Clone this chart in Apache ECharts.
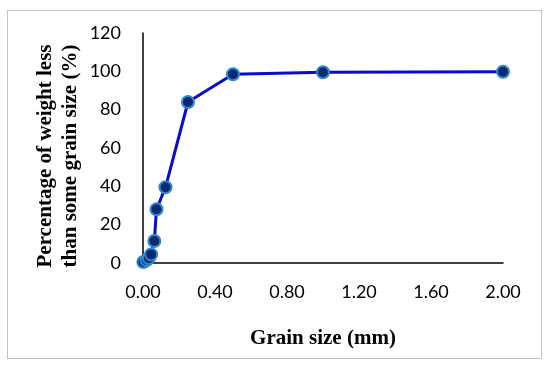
<!DOCTYPE html>
<html><head><meta charset="utf-8">
<script src="https://cdn.jsdelivr.net/npm/echarts@6/dist/echarts.min.js"></script>
<style>html,body{margin:0;padding:0;background:#fff}#c{width:550px;height:367px}
#frame{position:absolute;left:7px;top:10px;width:535px;height:349px;border:1.5px solid #c4c4c4;box-sizing:border-box;pointer-events:none}</style>
</head><body><div id="c"></div><div id="frame"></div>
<script>
const grainSize = [0.002, 0.02, 0.032, 0.045, 0.063, 0.075, 0.125, 0.25, 0.5, 1.0, 2.0];
const percentPassing = [0.5, 1.5, 2.5, 4.5, 11.5, 28, 39.5, 84, 98.5, 99.5, 99.8];
const xTicks = [0, 0.4, 0.8, 1.2, 1.6, 2.0];
const yTicks = [0, 20, 40, 60, 80, 100, 120];
const yTitle = 'Percentage of weight less\nthan some grain size (%)';

const chart = echarts.init(document.getElementById('c'));
chart.setOption({
  animation: false,
  grid: {left: 143, right: 47, top: 33, bottom: 104},
  graphic: [{
    type: 'text', x: 58, y: 156, rotation: Math.PI / 2,
    style: {text: yTitle, fontFamily: 'Liberation Serif', fontWeight: 'bold', fontSize: 21, lineHeight: 25,
            fill: '#000', align: 'center', verticalAlign: 'middle'}
  }],
  xAxis: {
    type: 'value', min: 0, max: 2.0, interval: 0.4,
    name: 'Grain size (mm)', nameLocation: 'middle', nameGap: 65,
    nameTextStyle: {fontFamily: 'Liberation Serif', fontWeight: 'bold', fontSize: 21, color: '#000'},
    axisLine: {lineStyle: {color: '#000', width: 1.5}},
    axisTick: {show: false},
    splitLine: {show: false},
    axisLabel: {color: '#000', fontSize: 18, fontFamily: 'Lato', margin: 20, formatter: v => v.toFixed(2)}
  },
  yAxis: {
    type: 'value', min: 0, max: 120, interval: 20,
    axisLine: {show: true, lineStyle: {color: '#000', width: 1.5}},
    axisTick: {show: false},
    splitLine: {show: false},
    axisLabel: {color: '#000', fontSize: 18, fontFamily: 'Lato', margin: 22}
  },
  series: [{
    type: 'line',
    data: grainSize.map((g, i) => [g, percentPassing[i]]),
    lineStyle: {color: '#0a0ad0', width: 3},
    symbol: 'circle', symbolSize: 12,
    itemStyle: {color: '#0b2a6e', borderColor: '#2f86d6', borderWidth: 2}
  }]
});
</script></body></html>
